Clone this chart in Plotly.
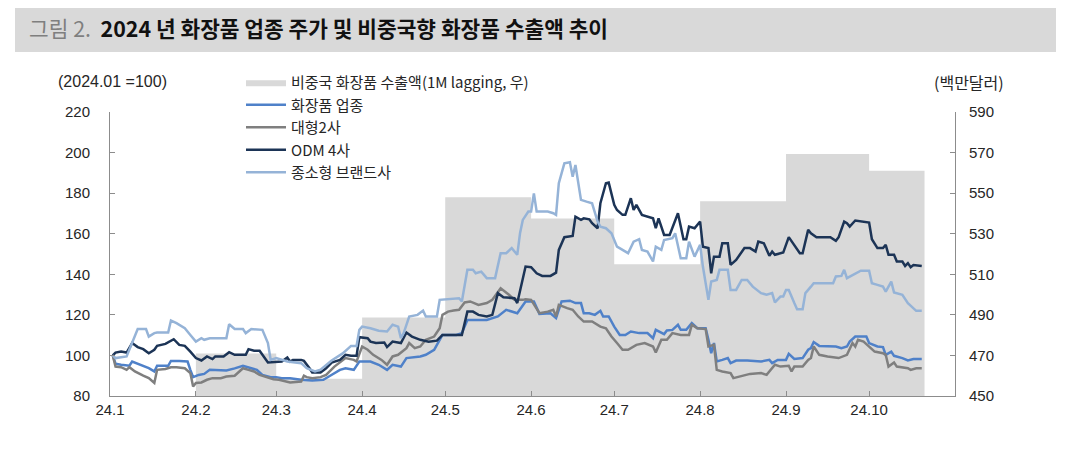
import pandas as pd
import plotly.graph_objects as go

# 페이지 body 기본 여백(8px)을 감안해 그림 크기/여백을 잡는다
OFF = 8
W, H = 1063, 457
ML, MR, MT, MB = 102, 116, 104, 69
FONT = "Liberation Sans, Arial, 'Noto Sans CJK KR', sans-serif"
KFONT = "'Noto Sans CJK KR', sans-serif"
INK = "#262626"
AXIS = "#8c8c8c"

BASE = pd.Timestamp("2024-01-01")

# 비중국 화장품 수출액 (백만달러, 1M lagging) - 월별
EXPORT_MONTH = ["2024-01-01", "2024-02-01", "2024-03-01", "2024-04-01", "2024-05-01",
                "2024-06-01", "2024-07-01", "2024-08-01", "2024-09-01", "2024-10-01"]
EXPORT_VAL = [445, 471, 458.5, 488.7, 548, 537.5, 515, 546, 569.3, 561]
EXPORT_END = "2024-10-21"

# 지수 (2024.01 = 100), x = 2024-01-01 기준 경과일
COS_DAY = [1, 2, 4, 7, 8, 10, 12, 14, 16, 17, 21, 22, 25, 28, 29, 30, 32, 34, 36, 39, 42, 45, 48, 51,
           53, 55, 58, 60, 62, 65, 69, 73, 77, 79, 81, 83, 85, 88, 90, 94, 97, 100, 102, 105, 107,
           112, 114, 117, 120, 125, 127, 129, 136, 140, 143, 147, 150, 153, 155, 157, 159, 161,
           163, 166, 168, 170, 171, 173, 175, 177, 178, 180, 182, 184, 186, 188, 191, 194, 196,
           197, 200, 201, 203, 205, 206, 208, 210, 212, 215, 216, 217, 218, 219, 221, 223, 224,
           226, 230, 235, 238, 239, 241, 244, 245, 247, 250, 252, 253, 254, 256, 259, 262, 264,
           266, 267, 269, 273, 274, 277, 279, 280, 282, 283, 286, 288, 290, 293]
COS_VAL = [100, 95.9, 95.4, 94.9, 97.0, 95.9, 94.5, 93.7, 92.1, 94.9, 94.9, 97.3, 97.3, 97.0, 92.9,
           89.3, 90.4, 90.9, 92.9, 92.6, 92.6, 93.6, 94.9, 93.7, 92.9, 90.4, 89.3, 89.3, 88.8, 88.8,
           88.0, 87.6, 88.0, 89.6, 91.3, 92.9, 93.7, 92.9, 97.0, 97.0, 95.4, 92.9, 95.4, 94.5, 98.7,
           99.5, 100.3, 102.8, 110.1, 110.1, 111.0, 117.5, 117.5, 119.2, 122.5, 120.8, 126.6, 126.6,
           120.5, 120.8, 120.8, 118.4, 126.6, 127.0, 125.8, 125.8, 120.8, 120.8, 120.0, 122.0, 119.2,
           119.2, 114.2, 110.1, 110.1, 111.8, 111.0, 111.0, 108.5, 112.6, 110.5, 112.3, 112.6, 115.1,
           112.6, 112.6, 115.9, 113.4, 113.4, 107.7, 101.1, 106.1, 97.0, 97.8, 98.7, 96.2, 97.5, 97.5,
           97.0, 97.8, 96.2, 97.8, 97.8, 100.8, 98.3, 98.7, 102.8, 103.6, 106.6, 104.7, 104.7, 104.4,
           103.6, 104.4, 106.8, 109.3, 109.3, 106.1, 104.4, 104.1, 100.3, 101.9, 99.8, 98.7, 97.5,
           98.2, 98.2]

BIG2_DAY = [1, 2, 4, 6, 7, 9, 12, 14, 16, 17, 20, 22, 24, 27, 29, 30, 31, 33, 35, 37, 40, 42, 45,
            48, 50, 52, 54, 57, 59, 61, 65, 69, 70, 71, 73, 76, 78, 81, 83, 85, 88, 89, 91, 93, 95,
            98, 100, 102, 104, 107, 108, 110, 112, 114, 117, 119, 120, 122, 124, 126, 128, 130, 133,
            136, 138, 141, 144, 146, 149, 150, 152, 155, 158, 160, 161, 162, 165, 167, 169, 171,
            174, 177, 179, 181, 183, 185, 187, 190, 193, 196, 197, 199, 201, 203, 206, 209, 210,
            212, 215, 216, 218, 219, 221, 224, 225, 227, 231, 235, 237, 240, 242, 245, 246, 247,
            250, 252, 253, 254, 256, 259, 263, 266, 268, 269, 270, 272, 274, 276, 279, 280, 281,
            283, 284, 288, 289, 291, 293]
BIG2_VAL = [100, 94.5, 94.2, 92.9, 94.2, 92.1, 90.0, 88.8, 86.4, 92.9, 93.3, 94.2, 94.2, 93.7, 91.3,
            84.7, 86.4, 86.7, 88.0, 88.8, 88.8, 89.6, 90.0, 93.7, 92.9, 92.1, 90.4, 89.3, 88.3, 88.0,
            86.7, 87.1, 90.0, 89.3, 88.8, 89.3, 90.4, 94.5, 96.5, 98.7, 97.8, 97.0, 104.4, 102.8,
            100.3, 97.8, 95.4, 99.5, 100.3, 103.6, 106.1, 103.6, 104.4, 107.7, 109.3, 113.4, 120.0,
            121.6, 122.1, 122.5, 126.1, 126.6, 124.9, 125.8, 127.4, 133.1, 129.9, 127.4, 127.4, 127.7,
            127.4, 120.8, 121.6, 122.5, 119.2, 124.9, 123.3, 122.5, 119.2, 116.7, 116.7, 114.2, 113.4,
            109.3, 106.1, 102.8, 102.8, 105.2, 106.1, 104.4, 101.4, 107.7, 107.7, 111.0, 110.1, 110.1,
            115.1, 113.4, 113.0, 104.4, 105.2, 92.9, 92.1, 91.3, 88.8, 89.6, 90.9, 91.3, 90.4, 95.4,
            94.5, 94.9, 92.1, 94.5, 94.5, 97.8, 98.7, 104.4, 100.3, 99.5, 98.7, 100.3, 106.1, 104.4,
            107.7, 106.8, 104.4, 101.9, 101.1, 100.3, 94.5, 96.5, 94.5, 93.7, 92.9, 93.7, 93.7]

ODM_DAY = [1, 2, 4, 6, 8, 10, 12, 14, 16, 17, 20, 23, 25, 27, 29, 31, 33, 35, 37, 38, 41, 43, 45,
           49, 50, 52, 54, 55, 57, 62, 64, 65, 66, 69, 70, 72, 73, 76, 78, 80, 81, 83, 85, 87, 89,
           90, 93, 94, 96, 99, 100, 102, 105, 107, 109, 112, 115, 118, 120, 127, 129, 131, 133, 136,
           138, 140, 142, 146, 147, 149, 150, 152, 154, 156, 159, 161, 162, 164, 167, 168, 170, 171,
           173, 174, 176, 177, 179, 180, 182, 183, 185, 186, 188, 189, 190, 192, 194, 196, 197, 198,
           200, 202, 205, 207, 208, 209, 211, 213, 214, 216, 217, 218, 220, 221, 223, 224, 226, 229,
           231, 233, 234, 236, 238, 239, 240, 243, 245, 247, 249, 250, 252, 253, 255, 260, 262, 263,
           265, 266, 267, 269, 274, 275, 277, 279, 280, 281, 283, 284, 286, 287, 288, 289, 290, 293]
ODM_VAL = [100, 101.4, 101.9, 101.4, 106.1, 104.1, 103.1, 101.1, 102.8, 104.7, 105.7, 108.0, 105.2,
           104.7, 101.9, 98.7, 97.5, 99.5, 98.2, 99.5, 99.5, 101.6, 100.3, 100.3, 103.1, 102.3, 102.3,
           100.3, 96.5, 97.0, 99.0, 97.0, 97.8, 97.8, 97.3, 93.7, 91.6, 91.6, 93.7, 96.5, 97.0, 97.8,
           100.3, 99.8, 99.8, 109.0, 108.5, 106.8, 106.1, 106.4, 104.1, 106.8, 106.1, 111.3, 109.3,
           107.7, 106.8, 107.3, 110.1, 110.1, 121.6, 121.6, 120.0, 119.2, 120.0, 130.7, 128.7, 128.2,
           125.8, 137.2, 143.8, 143.5, 140.5, 139.2, 139.2, 140.8, 152.0, 158.3, 158.9, 168.4, 166.8,
           167.6, 167.1, 165.2, 162.7, 175.0, 184.9, 185.2, 174.2, 171.7, 169.3, 169.3, 177.5, 171.7,
           174.2, 169.3, 168.4, 167.6, 162.7, 167.6, 159.4, 159.4, 170.1, 157.3, 157.3, 163.5, 162.7,
           166.0, 153.6, 152.9, 140.5, 148.7, 148.7, 155.3, 155.3, 144.6, 147.1, 152.9, 152.9, 151.2,
           156.1, 155.3, 149.1, 151.2, 149.6, 150.7, 158.3, 154.5, 150.4, 150.4, 161.9, 160.2, 158.3,
           158.3, 156.5, 158.3, 166.0, 165.2, 163.5, 166.5, 165.5, 157.3, 152.9, 152.9, 154.5, 149.6,
           149.6, 146.3, 146.3, 144.1, 145.5, 143.5, 144.6, 144.1]

SMALL_DAY = [1, 2, 6, 8, 10, 13, 14, 16, 17, 21, 22, 24, 27, 29, 31, 33, 34, 36, 42, 43, 45, 48,
             49, 51, 55, 57, 58, 60, 64, 69, 71, 74, 76, 80, 84, 87, 89, 90, 91, 94, 97, 100, 102,
             104, 105, 106, 108, 111, 113, 114, 118, 119, 126, 127, 129, 131, 132, 134, 136, 139,
             141, 143, 145, 147, 148, 149, 151, 152, 153, 154, 158, 160, 161, 162, 164, 166, 167,
             168, 170, 172, 174, 176, 177, 179, 181, 183, 185, 187, 189, 191, 192, 194, 196, 197,
             199, 200, 203, 204, 206, 208, 209, 211, 213, 214, 216, 217, 219, 220, 223, 224, 226,
             228, 230, 232, 235, 237, 239, 240, 242, 243, 244, 245, 247, 248, 250, 251, 253, 254,
             261, 262, 264, 265, 266, 269, 271, 274, 275, 277, 279, 280, 282, 283, 286, 288, 291, 293]
SMALL_VAL = [100, 98.7, 99.5, 106.1, 113.0, 113.0, 109.3, 111.0, 111.3, 111.3, 117.2, 115.9, 113.4,
             110.1, 106.8, 108.5, 107.7, 108.5, 108.5, 115.4, 113.0, 113.0, 111.0, 113.0, 112.6,
             106.1, 97.8, 98.7, 97.0, 96.2, 93.7, 92.1, 93.0, 97.5, 101.0, 104.7, 104.7, 112.6, 114.2,
             113.4, 112.2, 111.8, 115.1, 114.2, 108.5, 111.0, 119.2, 120.0, 122.1, 119.2, 119.2, 127.4,
             128.2, 126.6, 142.2, 142.2, 140.5, 141.3, 138.1, 138.1, 150.4, 150.4, 152.9, 149.6, 160.2,
             166.8, 170.9, 170.9, 179.9, 170.9, 170.9, 170.1, 169.3, 184.9, 194.7, 195.2, 188.1, 193.9,
             176.7, 175.8, 175.0, 166.0, 163.5, 162.7, 160.2, 153.6, 152.0, 150.4, 156.1, 157.3, 152.0,
             151.2, 146.3, 153.6, 152.0, 156.9, 157.8, 160.2, 147.9, 147.9, 156.1, 148.7, 154.5, 143.8,
             127.4, 136.4, 137.2, 142.2, 142.2, 132.3, 132.3, 137.2, 137.2, 133.9, 130.7, 129.9, 130.7,
             126.1, 129.0, 129.0, 132.3, 132.3, 125.8, 122.8, 122.8, 130.7, 133.9, 135.6, 135.6, 138.9,
             139.2, 142.2, 138.1, 140.5, 141.8, 141.8, 135.6, 134.8, 133.9, 131.5, 136.4, 131.0, 129.9,
             125.8, 122.0, 122.0]

TICK_DATES = EXPORT_MONTH
TICK_TEXT = ["24.1", "24.2", "24.3", "24.4", "24.5", "24.6", "24.7", "24.8", "24.9", "24.10"]
X_RANGE = ["2024-01-01", "2024-11-01"]


def to_dates(days):
    return BASE + pd.to_timedelta(days, unit="D")


# 화면(페이지) 픽셀 -> paper 좌표
def px_x(px):
    return (px - OFF - ML) / (W - ML - MR)


def px_y(py):
    return (H - MB - (py - OFF)) / (H - MT - MB)


fig = go.Figure()

# 수출액 음영은 주축(우측 눈금), 지수 라인은 겹친 보조축(좌측 눈금) -> 라인이 위에 그려짐
fig.add_trace(go.Scatter(
    x=EXPORT_MONTH + [EXPORT_END], y=EXPORT_VAL + [EXPORT_VAL[-1]],
    name="비중국 화장품 수출액(1M lagging, 우)", yaxis="y",
    mode="lines", line=dict(width=0, shape="hv", color="#d9d9d9"),
    fill="tozeroy", fillcolor="#d9d9d9"))

series = [
    ("화장품 업종", COS_DAY, COS_VAL, "#4f81c9"),
    ("대형2사", BIG2_DAY, BIG2_VAL, "#7f7f7f"),
    ("ODM 4사", ODM_DAY, ODM_VAL, "#1c3456"),
    ("종소형 브랜드사", SMALL_DAY, SMALL_VAL, "#95b3d7"),
]
for name, days, vals, color in series:
    fig.add_trace(go.Scatter(x=to_dates(days), y=vals, name=name, mode="lines", yaxis="y2",
                             line=dict(color=color, width=2.5)))

axis_common = dict(showline=True, linecolor=AXIS, linewidth=1, ticks="inside",
                   ticklen=5, tickcolor=AXIS, showgrid=False, zeroline=False,
                   tickfont=dict(family=FONT, size=15, color=INK))

fig.update_layout(
    width=W, height=H, margin=dict(l=ML, r=MR, t=MT, b=MB),
    paper_bgcolor="white", plot_bgcolor="white",
    font=dict(family=FONT, size=15, color=INK),
    xaxis=dict(**axis_common, type="date", range=X_RANGE,
               tickvals=TICK_DATES, ticktext=TICK_TEXT),
    yaxis=dict(**axis_common, range=[450, 590], tick0=450, dtick=20, side="right",
               ticklabelstandoff=10),
    yaxis2=dict(**axis_common, range=[80, 220], tick0=80, dtick=20, side="left",
                overlaying="y", ticklabelstandoff=16),
    legend=dict(x=px_x(241), y=px_y(66), xanchor="left", yanchor="top",
                bgcolor="rgba(0,0,0,0)", font=dict(family=KFONT, size=15, color=INK),
                tracegroupgap=0, itemwidth=40, traceorder="normal"),
    showlegend=True,
    shapes=[dict(type="rect", xref="paper", yref="paper",
                 x0=px_x(15), x1=px_x(1056), y0=px_y(52), y1=px_y(0),
                 fillcolor="#d9d9d9", line=dict(width=0), layer="below")],
    annotations=[
        dict(xref="paper", yref="paper", x=px_x(27), y=px_y(27), xanchor="left",
             yanchor="middle", showarrow=False,
             text="<span style='color:#7f7f7f'>그림 2.</span>  "
                  "<b>2024 년 화장품 업종 주가 및 비중국향 화장품 수출액 추이</b>",
             font=dict(family=KFONT, size=21.4, color="#111111")),
        dict(xref="paper", yref="paper", x=px_x(56), y=px_y(82), xanchor="left",
             yanchor="middle", showarrow=False, text="(2024.01 =100)",
             font=dict(family=FONT, size=16, color=INK)),
        dict(xref="paper", yref="paper", x=px_x(1006), y=px_y(82), xanchor="right",
             yanchor="middle", showarrow=False, text="(백만달러)",
             font=dict(family=KFONT, size=16, color=INK)),
    ],
)

fig.write_html("out.html")
